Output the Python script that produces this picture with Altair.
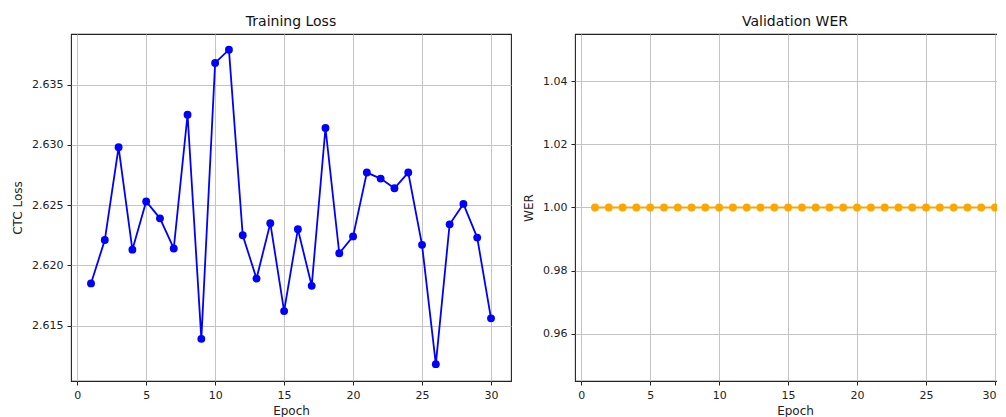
import altair as alt
import pandas as pd

epochs = list(range(1, 31))
train_loss = [2.6185, 2.6221, 2.6298, 2.6213, 2.6253, 2.6239, 2.6214, 2.6325, 2.6139, 2.6368,
              2.6379, 2.6225, 2.6189, 2.6235, 2.6162, 2.6230, 2.6183, 2.6314, 2.6210, 2.6224,
              2.6277, 2.6272, 2.6264, 2.6277, 2.6217, 2.6118, 2.6234, 2.6251, 2.6223, 2.6156]
val_wer = [1.00] * 30

x_ticks = [0, 5, 10, 15, 20, 25, 30]
loss_ticks = [2.615, 2.620, 2.625, 2.630, 2.635]
wer_ticks = [0.96, 0.98, 1.00, 1.02, 1.04]

df_loss = pd.DataFrame({"Epoch": epochs, "Loss": train_loss})
df_wer = pd.DataFrame({"Epoch": epochs, "WER": val_wer})

W, H = 440, 347


def panel(df, field, ytitle, title, color, domain, ticks, fmt, last_right=False):
    xaxis_kw = dict(values=x_ticks, format="d", titlePadding=5)
    if last_right:
        xaxis_kw["labelFlush"] = False
        xaxis_kw["labelAlign"] = {"condition": {"test": "datum.value == 30", "value": "right"},
                                  "value": "center"}
        xaxis_kw["labelOffset"] = {"condition": {"test": "datum.value == 30", "value": 1},
                                   "value": 0}
    return alt.Chart(df, title=alt.TitleParams(title, fontSize=14, fontWeight="normal",
                                               font="DejaVu Sans", offset=5, color="#111")).mark_line(
        color=color, strokeWidth=1.8,
        point=alt.OverlayMarkDef(filled=True, size=62, color=color, opacity=1),
    ).encode(
        x=alt.X("Epoch:Q", title="Epoch",
                scale=alt.Scale(domain=[-0.45, 31.45], nice=False, zero=False),
                axis=alt.Axis(**xaxis_kw)),
        y=alt.Y(f"{field}:Q", title=ytitle,
                scale=alt.Scale(domain=domain, nice=False, zero=False),
                axis=alt.Axis(values=ticks, format=fmt, titlePadding=7)),
    ).properties(width=W, height=H)


left = panel(df_loss, "Loss", "CTC Loss", "Training Loss", "#0000ff",
             [2.6104, 2.6392], loss_ticks, ".3f")
right = panel(df_wer, "WER", "WER", "Validation WER", "#ffa500",
              [0.945, 1.055], wer_ticks, ".2f", last_right=True)

chart = alt.hconcat(left, right, spacing=64, bounds="flush").properties(
    padding={"left": 2, "top": 6, "right": -19, "bottom": 0},
).configure_view(
    stroke="#222", strokeWidth=1.1
).configure_axis(
    domain=False,
    grid=True, gridColor="#c4c4c4", gridWidth=1,
    tickColor="#222", tickSize=4, tickWidth=1,
    labelFont="DejaVu Sans", labelFontSize=11, labelColor="#222", labelPadding=4,
    titleFont="DejaVu Sans", titleFontSize=12, titleFontWeight="normal", titleColor="#222",
)

chart.save("out.html", embed_options={"renderer": "svg", "actions": False})
